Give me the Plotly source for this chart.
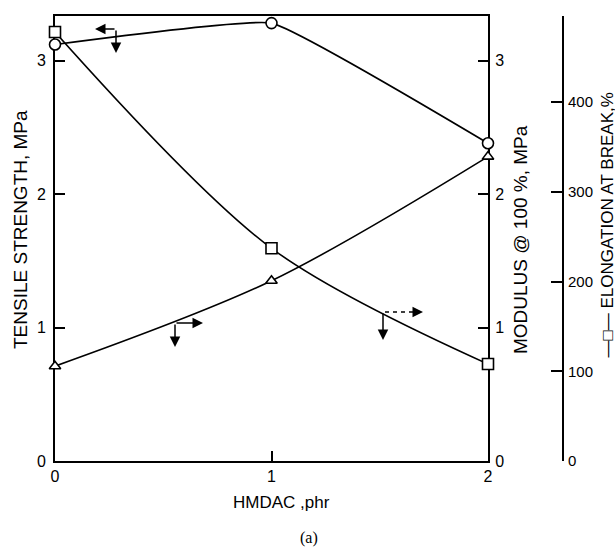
import plotly.graph_objects as go

# ---- data ----
hmdac = [0, 1, 2]
tensile = [3.12, 3.28, 2.38]      # MPa, left axis (circles)
modulus = [0.71, 1.35, 2.28]      # MPa, right axis (triangles)
elongation = [478, 237, 108]      # %, far right axis (squares)

x_ticks = [0, 1, 2]
mpa_ticks = [0, 1, 2, 3]
elong_ticks = [0, 100, 200, 300, 400]

# ---- layout geometry (pixels) ----
W, H = 615, 548
ML, MR, MT, MB = 55, 50, 16, 87
PW = W - ML - MR
PH = H - MT - MB


def px(x):
    return (x - ML) / PW


def py(y):
    return (H - MB - y) / PH


FONT = "Liberation Sans, Arial, DejaVu Sans, sans-serif"
BLACK = "black"

fig = go.Figure()


def line_style(smooth):
    return dict(color=BLACK, width=1.6, shape="spline", smoothing=smooth)


fig.add_trace(go.Scatter(
    x=hmdac, y=tensile, mode="lines+markers", yaxis="y",
    line=line_style(0.3),
    marker=dict(symbol="circle", size=11, color="white",
                line=dict(color=BLACK, width=1.6)),
    cliponaxis=False, showlegend=False,
))
fig.add_trace(go.Scatter(
    x=hmdac, y=modulus, mode="lines+markers", yaxis="y2",
    line=line_style(0.9),
    marker=dict(symbol="triangle-up", size=10, color="white",
                line=dict(color=BLACK, width=1.6)),
    cliponaxis=False, showlegend=False,
))
fig.add_trace(go.Scatter(
    x=hmdac, y=elongation, mode="lines+markers", yaxis="y3",
    line=line_style(0.9),
    marker=dict(symbol="square", size=11, color="white",
                line=dict(color=BLACK, width=1.6)),
    cliponaxis=False, showlegend=False,
))

mpa_range = [0, (H - MB - MT) / 133.5]
elong_range = [0, (H - MB - MT) / 0.8975]

tickfont = dict(family=FONT, size=16, color=BLACK)

fig.update_layout(
    width=W, height=H,
    margin=dict(l=ML, r=MR, t=MT, b=MB, pad=0),
    paper_bgcolor="white", plot_bgcolor="white",
    xaxis=dict(
        domain=[0, (488 - ML) / PW], range=[0, 2],
        tickvals=x_ticks, ticktext=[str(v) for v in x_ticks],
        ticks="inside", ticklen=10, tickwidth=1.5, tickcolor=BLACK,
        showline=True, linecolor=BLACK, linewidth=2, mirror=True,
        showgrid=False, zeroline=False, tickfont=tickfont,
        layer="below traces",
    ),
    yaxis=dict(
        range=mpa_range, tickvals=mpa_ticks,
        ticktext=[str(v) for v in mpa_ticks],
        ticks="inside", ticklen=10, tickwidth=1.5, tickcolor=BLACK,
        showline=True, linecolor=BLACK, linewidth=2,
        showgrid=False, zeroline=False, tickfont=tickfont,
        ticklabelstandoff=4, layer="below traces",
    ),
    yaxis2=dict(
        overlaying="y", side="right", anchor="x",
        range=mpa_range, tickvals=mpa_ticks,
        ticktext=[str(v) for v in mpa_ticks],
        ticks="inside", ticklen=10, tickwidth=1.5, tickcolor=BLACK,
        showline=True, linecolor=BLACK, linewidth=2,
        showgrid=False, zeroline=False, tickfont=tickfont,
        ticklabelstandoff=2, layer="below traces",
    ),
    yaxis3=dict(
        overlaying="y", side="right", anchor="free", position=px(563),
        range=elong_range, tickvals=elong_ticks,
        ticktext=[str(v) for v in elong_ticks],
        ticks="inside", ticklen=11, tickwidth=1.5, tickcolor=BLACK,
        showline=True, linecolor=BLACK, linewidth=2,
        showgrid=False, zeroline=False,
        tickfont=dict(family=FONT, size=15, color=BLACK),
        ticklabelstandoff=1, layer="below traces",
    ),
)

annotations = [
    dict(text="TENSILE STRENGTH, MPa", x=px(20), y=py(230), textangle=-90,
         font=dict(family=FONT, size=19, color=BLACK)),
    dict(text="MODULUS @ 100 %, MPa", x=px(520), y=py(240), textangle=-90,
         font=dict(family=FONT, size=19, color=BLACK)),
    dict(text="\u2014\u25a1\u2014 ELONGATION AT BREAK,%", x=px(607.5), y=py(225),
         textangle=-90, font=dict(family=FONT, size=17, color=BLACK)),
    dict(text="HMDAC ,phr", x=px(281), y=py(502),
         font=dict(family=FONT, size=17, color=BLACK)),
    dict(text="(a)", x=px(309), y=py(538),
         font=dict(family="Liberation Serif, Times New Roman, serif", size=16,
                   color=BLACK)),
]
for a in annotations:
    a.update(xref="paper", yref="paper", showarrow=False,
             xanchor="center", yanchor="middle")

# direction arrows: (head_x, head_y, tail_x, tail_y) in pixels
arrows = [
    (95, 29, 116, 29), (116, 53, 116, 29),
    (175, 347, 175, 323), (203, 323, 175, 323),
    (383, 340, 383, 312), (423, 312, 412, 312),
]
for hx, hy, tx, ty in arrows:
    annotations.append(dict(
        xref="paper", yref="paper", x=px(hx), y=py(hy),
        ax=tx - hx, ay=ty - hy, axref="pixel", ayref="pixel",
        text="", showarrow=True, arrowhead=2, arrowsize=1.4,
        arrowwidth=1.5, arrowcolor=BLACK,
    ))
fig.update_layout(annotations=annotations)

# dashed stem of the elongation arrow
fig.add_shape(type="line", xref="paper", yref="paper",
              x0=px(385), y0=py(312), x1=px(413), y1=py(312),
              line=dict(color=BLACK, width=1.5, dash="4px,4px"))

fig.write_html("out.html")
